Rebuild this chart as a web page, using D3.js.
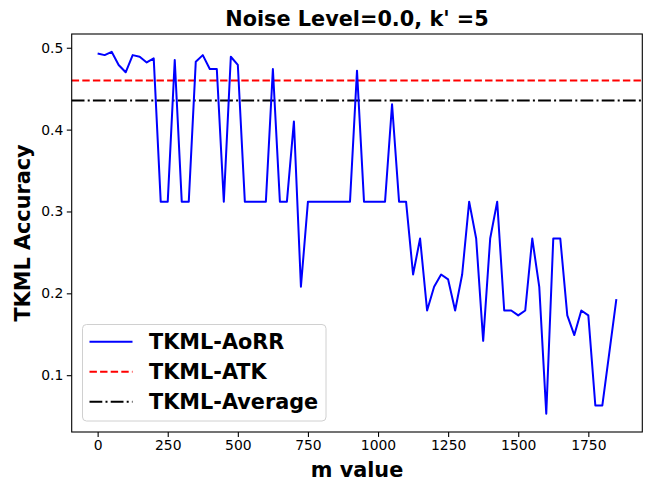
<!DOCTYPE html>
<html><head><meta charset="utf-8">
<script src="https://cdn.jsdelivr.net/npm/d3@7"></script>
<style>html,body{margin:0;padding:0;background:#fff;} svg{display:block;font-family:"DejaVu Sans",sans-serif;}</style>
</head><body><svg id="c" width="651" height="491"></svg>
<script>
const mValues = d3.range(0, 1851, 25);
const aorr = [0.493,0.491,0.495,0.479,0.470,0.491,0.489,0.482,0.487,0.312,
  0.312,0.485,0.312,0.312,0.483,0.491,0.474,0.474,0.312,0.489,
  0.479,0.312,0.312,0.312,0.312,0.474,0.312,0.312,0.410,0.208,
  0.312,0.312,0.312,0.312,0.312,0.312,0.312,0.472,0.312,0.312,
  0.312,0.312,0.431,0.312,0.312,0.223,0.267,0.179,0.208,0.223,
  0.217,0.179,0.223,0.312,0.267,0.142,0.267,0.312,0.179,0.179,
  0.173,0.179,0.267,0.208,0.053,0.267,0.267,0.173,0.149,0.179,
  0.173,0.063,0.063,0.128,0.193];
const atk = 0.460;
const average = 0.4356;
const xTicks = [0,250,500,750,1000,1250,1500,1750];
const yTicks = [0.1,0.2,0.3,0.4,0.5];
const seriesNames = ["TKML-AoRR","TKML-ATK","TKML-Average"];

const svg = d3.select("#c");
const L=71.7, R=642.3, T=34, B=432;
const x = d3.scaleLinear().domain([-92.5,1942.5]).range([L,R]);
const y = d3.scaleLinear().domain([0.0306,0.5168]).range([B,T]);

// axes
const xa = svg.append("g").attr("transform",`translate(0,${B})`)
  .call(d3.axisBottom(x).tickValues(xTicks).tickSize(4.9).tickPadding(3.5).tickFormat(d3.format("d")));
const ya = svg.append("g").attr("transform",`translate(${L},0)`)
  .call(d3.axisLeft(y).tickValues(yTicks).tickSize(4.9).tickPadding(3.5).tickFormat(d3.format(".1f")));
[xa,ya].forEach(a=>{a.select(".domain").remove();
  a.selectAll("text").attr("font-size","13.9px").attr("font-family","DejaVu Sans").attr("fill","#000");
  a.selectAll("line").attr("stroke","#000").attr("stroke-width",1.1);});

// reference lines
svg.append("line").attr("x1",L).attr("x2",R).attr("y1",y(atk)).attr("y2",y(atk))
  .attr("stroke","#ff0000").attr("stroke-width",2).attr("stroke-dasharray","7.4,3.2");
svg.append("line").attr("x1",L).attr("x2",R).attr("y1",y(average)).attr("y2",y(average))
  .attr("stroke","#000").attr("stroke-width",2).attr("stroke-dasharray","12.8,3.2,2,3.2");

// main line
const line = d3.line().x((d,i)=>x(mValues[i])).y(d=>y(d));
svg.append("path").datum(aorr).attr("d",line).attr("fill","none")
  .attr("stroke","#0000ff").attr("stroke-width",2).attr("stroke-linejoin","round");

// frame
svg.append("rect").attr("x",L).attr("y",T).attr("width",R-L).attr("height",B-T)
  .attr("fill","none").attr("stroke","#000").attr("stroke-width",1.1);

// title & labels
svg.append("text").attr("x",(L+R)/2).attr("y",25.5).attr("text-anchor","middle")
  .attr("font-size","20.8px").attr("font-weight","bold").text("Noise Level=0.0, k' =5");
svg.append("text").attr("x",(L+R)/2).attr("y",477).attr("text-anchor","middle")
  .attr("font-size","20.8px").attr("font-weight","bold").text("m value");
svg.append("text").attr("transform",`translate(29.5,${(T+B)/2}) rotate(-90)`).attr("text-anchor","middle")
  .attr("font-size","20.8px").attr("font-weight","bold").text("TKML Accuracy");

// legend
const lg = svg.append("g");
lg.append("rect").attr("x",82.5).attr("y",324.5).attr("width",243.5).attr("height",96.5).attr("rx",4)
  .attr("fill","#fff").attr("fill-opacity",0.8).attr("stroke","#d0d0d0").attr("stroke-width",1);
const styles = [["#0000ff",null],["#ff0000","7.4,3.2"],["#000","12.8,3.2,2,3.2"]];
seriesNames.forEach((n,i)=>{
  const cy = 341.7 + i*30;
  const l = lg.append("line").attr("x1",89.5).attr("x2",132.5).attr("y1",cy).attr("y2",cy)
    .attr("stroke",styles[i][0]).attr("stroke-width",2);
  if(styles[i][1]) l.attr("stroke-dasharray",styles[i][1]);
  lg.append("text").attr("x",149).attr("y",cy+7.5).attr("font-size","20.8px").attr("font-weight","bold").text(n);
});
</script></body></html>
